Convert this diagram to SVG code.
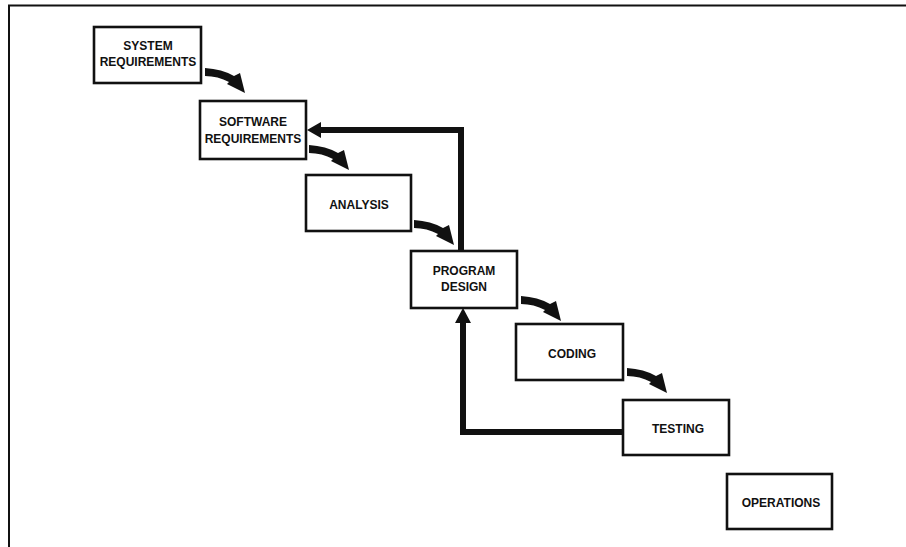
<svg xmlns="http://www.w3.org/2000/svg" width="906" height="547" viewBox="0 0 906 547">
  <style>
    .box { fill: #ffffff; stroke: #111111; stroke-width: 2.6; }
    .lbl { font-family: "Liberation Sans", Arial, sans-serif; font-weight: bold; font-size: 12px; fill: #111111; text-anchor: middle; }
    .frame { stroke: #111111; stroke-width: 2; fill: none; }
    .loop { stroke: #111111; stroke-width: 6; fill: none; stroke-linejoin: miter; }
    .head { fill: #111111; }
  </style>
  <defs>
    <!-- thick curved step arrow, origin at middle of its tail -->
    <path id="step" d="M0,-4 Q17,-3 29,4 L35,1 L40,21 L22,12 L24,10 Q13,4 0,4 Z" fill="#111111"/>
  </defs>

  <!-- page frame (top and left edges) -->
  <path class="frame" d="M8,5.5 H906 M9,5 V547"/>

  <g id="system-requirements">
    <rect class="box" x="94" y="27" width="107" height="56"/>
    <text class="lbl" x="148" y="50">SYSTEM</text>
    <text class="lbl" x="148" y="66">REQUIREMENTS</text>
  </g>
  <g id="software-requirements">
    <rect class="box" x="200" y="101" width="106" height="58"/>
    <text class="lbl" x="253" y="126">SOFTWARE</text>
    <text class="lbl" x="253" y="143">REQUIREMENTS</text>
  </g>
  <g id="analysis">
    <rect class="box" x="306" y="175" width="105" height="56"/>
    <text class="lbl" x="359" y="209">ANALYSIS</text>
  </g>
  <g id="program-design">
    <rect class="box" x="411" y="251" width="106" height="57"/>
    <text class="lbl" x="464" y="275">PROGRAM</text>
    <text class="lbl" x="464" y="291">DESIGN</text>
  </g>
  <g id="coding">
    <rect class="box" x="516" y="324" width="107" height="56"/>
    <text class="lbl" x="572" y="358">CODING</text>
  </g>
  <g id="testing">
    <rect class="box" x="623" y="400" width="106" height="55"/>
    <text class="lbl" x="678" y="433">TESTING</text>
  </g>
  <g id="operations">
    <rect class="box" x="727" y="474" width="105" height="55"/>
    <text class="lbl" x="781" y="507">OPERATIONS</text>
  </g>

  <g id="connectors">
    <!-- forward steps -->
    <use href="#step" transform="translate(205,72)"/>
    <use href="#step" transform="translate(309,149)"/>
    <use href="#step" transform="translate(414,224)"/>
    <use href="#step" transform="translate(521,300)"/>
    <use href="#step" transform="translate(627,372)"/>

    <!-- iteration back from program design to software requirements -->
    <path class="loop" d="M461,251 V130 H318"/>
    <polygon class="head" points="307,130 321,122 321,138"/>

    <!-- iteration back from testing to program design -->
    <path class="loop" d="M623,432 H463 V320"/>
    <polygon class="head" points="463,308 455,323 471,323"/>
  </g>
</svg>
